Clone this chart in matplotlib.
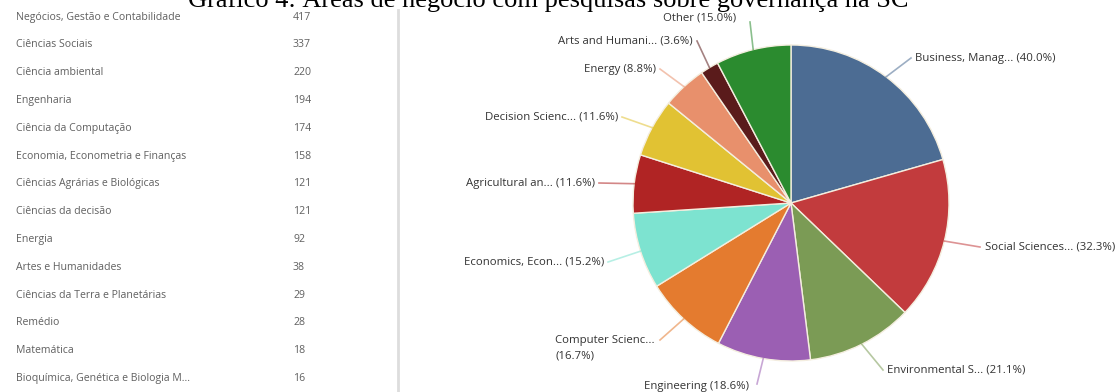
import matplotlib.pyplot as plt
import numpy as np

# Table on the left (Portuguese subject areas and document counts)
table_areas = ['Negócios, Gestão e Contabilidade', 'Ciências Sociais', 'Ciência ambiental',
               'Engenharia', 'Ciência da Computação', 'Economia, Econometria e Finanças',
               'Ciências Agrárias e Biológicas', 'Ciências da decisão', 'Energia',
               'Artes e Humanidades', 'Ciências da Terra e Planetárias', 'Remédio',
               'Matemática', 'Bioquímica, Genética e Biologia M...']
table_counts = [417, 337, 220, 194, 174, 158, 121, 121, 92, 38, 29, 28, 18, 16]

# Pie slices (clockwise from 12 o'clock)
pie_labels = ['Business, Manag...', 'Social Sciences...', 'Environmental S...', 'Engineering',
              'Computer Scienc...\n', 'Economics, Econ...', 'Agricultural an...',
              'Decision Scienc...', 'Energy', 'Arts and Humani...', 'Other']
pie_values = [417, 337, 220, 194, 174, 158, 121, 121, 92, 38, 156]
total_docs = 1042

pie_colors = ['#4c6c93', '#c23b3d', '#7b9b55', '#9b5fb3', '#e47b2f', '#7de3d0',
              '#b02424', '#e1c233', '#e8906c', '#5a1b1b', '#2b8b2f']

# label anchor positions in pixels (x, y from top) and alignment
label_pos = [(915, 58, 'left'), (985, 247, 'left'), (887, 370, 'left'), (697, 387, 'center'),
             (555, 348, 'left'), (604, 262, 'right'), (595, 183, 'right'),
             (618, 117, 'right'), (656, 69, 'right'), (693, 41, 'right'), (700, 18, 'center')]
line_end = [(911, 58), (980, 247), (883, 370), (757, 384), (660, 340), (608, 262),
            (599, 183), (622, 117), (660, 69), (697, 41), (750, 22)]

W, H = 1117, 392
fig = plt.figure(figsize=(W / 100, H / 100), dpi=100)
ax = fig.add_axes([0, 0, 1, 1])

cx, cy, r = 791, 203, 158
wedges, _ = ax.pie(pie_values, colors=pie_colors, startangle=90, counterclock=False,
                   center=(cx, H - cy), radius=r, frame=True,
                   wedgeprops=dict(edgecolor='#f4eedf', linewidth=1.0))

for w, lab, val, pos, end in zip(wedges, pie_labels, pie_values, label_pos, line_end):
    ang = np.deg2rad((w.theta1 + w.theta2) / 2)
    ex, ey = cx + r * np.cos(ang), (H - cy) + r * np.sin(ang)
    ax.plot([ex, end[0]], [ey, H - end[1]], color=w.get_facecolor(), alpha=0.55, lw=1.2)
    pct = f'({val / total_docs * 100:.1f}%)'
    txt = f'{lab} {pct}' if not lab.endswith('\n') else lab + pct
    ax.text(pos[0], H - pos[1], txt, ha=pos[2], va='center', fontsize=8.2,
            family='Open Sans', color='#333333', linespacing=1.5, multialignment='left')

# left table
row_y = 17
for name, cnt in zip(table_areas, table_counts):
    ax.text(16, H - row_y, name, ha='left', va='center', fontsize=7.6,
            family='Open Sans', color='#606060')
    ax.text(293, H - row_y, str(cnt), ha='left', va='center', fontsize=7.6,
            family='Open Sans', color='#606060')
    row_y += 27.8

ax.plot([398, 398], [0, H - 10], color='#dddddd', lw=2)

ax.text(548, H - 7, 'Gráfico 4: Áreas de negócio com pesquisas sobre governança na SC',
        ha='center', va='baseline', fontsize=19, family='Liberation Serif', color='black')

ax.set_xlim(0, W)
ax.set_ylim(0, H)
ax.set_aspect('auto')
ax.axis('off')

fig.savefig('out.png', dpi=100)
